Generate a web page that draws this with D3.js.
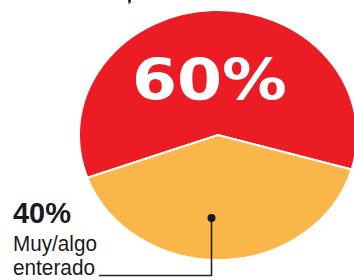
<!DOCTYPE html>
<html><head><meta charset="utf-8">
<script src="https://cdn.jsdelivr.net/npm/d3@7"></script>
<style>html,body{margin:0;padding:0;background:#fff;}svg{display:block;}</style>
</head><body>
<svg id="c" width="354" height="280"></svg>
<script>
const categories = ["Nada enterado", "Muy/algo enterado"];
const values = [60, 40];
const colors = ["#ec1c24", "#fbb64a"];
const bigLabel = "60%";
const smallLabel = "40%";
const smallLines = ["Muy/algo", "enterado"];

const svg = d3.select("#c");
const cx = 218, cy = 135, rx = 139, ry = 125;

const pie = d3.pie().sort(null).value(d => d)
  .startAngle(250 * Math.PI / 180).endAngle(610 * Math.PI / 180);
const arcs = pie(values);
const arc = d3.arc().innerRadius(0).outerRadius(1);

const g = svg.append("g").attr("transform", `translate(${cx},${cy}) scale(${rx},${ry})`);
g.selectAll("path").data(arcs).join("path")
  .attr("d", arc)
  .attr("fill", (d, i) => colors[i])
  .attr("stroke", "#fff")
  .attr("stroke-width", 2)
  .attr("vector-effect", "non-scaling-stroke");

// tiny cut-off mark at the top (fragment of text outside the frame)
svg.append("path").attr("d", "M128,0 h3 v2 l-2,2 h-1 l1,-2 h-1 z").attr("fill", "#333");

// big label
svg.append("text").attr("x", 209.5).attr("y", 100).attr("text-anchor", "middle")
  .attr("font-family", "DejaVu Sans").attr("font-weight", "bold").attr("font-size", 57)
  .attr("textLength", 155).attr("lengthAdjust", "spacingAndGlyphs")
  .attr("fill", "#fff").text(bigLabel);

// small label
svg.append("text").attr("x", 13).attr("y", 223)
  .attr("font-family", "Liberation Sans").attr("font-weight", "bold").attr("font-size", 29)
  .attr("textLength", 58).attr("lengthAdjust", "spacingAndGlyphs")
  .attr("fill", "#1a1a1a").text(smallLabel);

const lineY = [251, 275];
svg.selectAll("text.sub").data(smallLines).join("text").attr("class", "sub")
  .attr("x", 13).attr("y", (d, i) => lineY[i])
  .attr("font-family", "Liberation Sans").attr("font-size", 22)
  .attr("textLength", (d, i) => i === 0 ? 84 : 82).attr("lengthAdjust", "spacingAndGlyphs")
  .attr("fill", "#1a1a1a").text(d => d);

// leader
svg.append("path")
  .attr("d", "M99,275.5 H211.5 V218")
  .attr("fill", "none").attr("stroke", "#222").attr("stroke-width", 1.6);
svg.append("circle").attr("cx", 211.5).attr("cy", 218).attr("r", 4).attr("fill", "#1a1a1a");
</script>
</body></html>
